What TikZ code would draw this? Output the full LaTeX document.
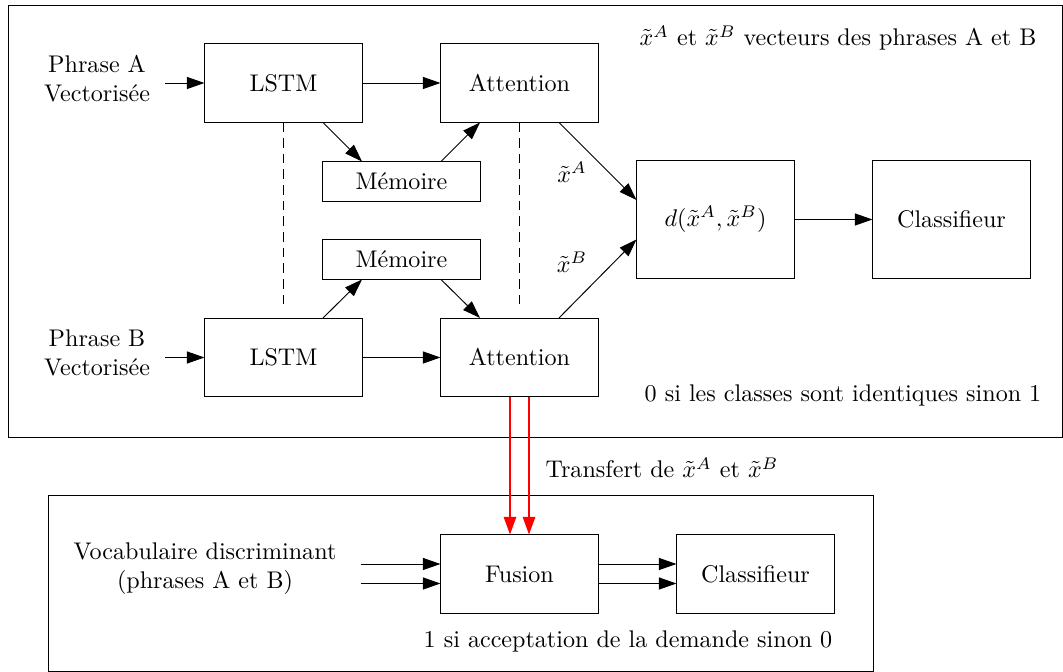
\documentclass[tikz,border=0pt]{standalone}
\usetikzlibrary{arrows.meta,calc}
\begin{document}
\begin{tikzpicture}[x=0.415pt,y=-0.415pt,
  box/.style={draw, minimum width=65.2pt, minimum height=32.4pt, inner sep=0pt},
  membox/.style={draw, minimum width=65.2pt, minimum height=16.2pt, inner sep=0pt},
  distbox/.style={draw, minimum width=65.2pt, minimum height=48.6pt, inner sep=0pt},
  lbl/.style={inner sep=0pt, align=center},
  arr/.style={-{Triangle[length=7.3pt,width=5pt]}},
  redarr/.style={color=red, line width=0.5pt, -{Triangle[length=7.3pt,width=5.2pt]}},
  sep/.style={dashed, dash pattern=on 4pt off 2.5pt}]
\useasboundingbox (0,0) rectangle (1063,672);

% frames of the two stages
\draw (8,5) rectangle (1062,437);
\draw (48,495) rectangle (873,671);

% upper stage: siamese encoder
\node[lbl] (phrA) at (97,79) {Phrase A\\Vectorisée};
\node[lbl] (phrB) at (97,353) {Phrase B\\Vectorisée};
\node[box] (lstmA) at (283.5,83) {LSTM};
\node[box] (attA) at (519.5,83) {Attention};
\node[membox] (memA) at (401.5,181.5) {Mémoire};
\node[membox] (memB) at (401.5,259.5) {Mémoire};
\node[box] (lstmB) at (283.5,357.5) {LSTM};
\node[box] (attB) at (519.5,357.5) {Attention};
\node[distbox] (dist) at (715.5,219.5) {$d(\tilde{x}^A,\tilde{x}^B)$};
\node[distbox] (clsA) at (951.5,219.5) {Classifieur};

\node[lbl] (xa) at (572,172) {$\tilde{x}^A$};
\node[lbl] (xb) at (572,262) {$\tilde{x}^B$};
\node[lbl] (legend) at (838,38) {$\tilde{x}^A$ et $\tilde{x}^B$ vecteurs des phrases A et B};
\node[lbl] (rule1) at (843,395) {0 si les classes sont identiques sinon 1};

\draw[arr] ($(lstmA.west)+(-39,0)$) -- (lstmA.west);
\draw[arr] ($(lstmB.west)+(-39,0)$) -- (lstmB.west);
\draw[arr] (lstmA) -- (attA);
\draw[arr] (lstmB) -- (attB);
\draw[arr] ($(lstmA.south)+(39.5,0)$) -- ($(memA.north)+(-39.5,0)$);
\draw[arr] ($(memA.north)+(39.5,0)$) -- ($(attA.south)+(-39.5,0)$);
\draw[arr] ($(lstmB.north)+(39.5,0)$) -- ($(memB.south)+(-39.5,0)$);
\draw[arr] ($(memB.south)+(39.5,0)$) -- ($(attB.north)+(-39.5,0)$);
\draw[arr] ($(attA.south)+(39.5,0)$) -- ($(dist.west)+(0,-19.5)$);
\draw[arr] ($(attB.north)+(39.5,0)$) -- ($(dist.west)+(0,20)$);
\draw[arr] (dist) -- (clsA);
\draw[sep] (lstmA.south) -- ($(lstmB.north)+(0,-10)$);
\draw[sep] (attA.south) -- ($(attB.north)+(0,-10)$);

% lower stage: fusion classifier
\node[lbl] (voc) at (205,569) {Vocabulaire discriminant\\(phrases A et B)};
\node[box] (fus) at (519.5,574) {Fusion};
\node[box] (clsB) at (755.5,574) {Classifieur};
\node[lbl] (transf) at (662,468) {Transfert de $\tilde{x}^A$ et $\tilde{x}^B$};
\node[lbl] (rule2) at (628,641) {1 si acceptation de la demande sinon 0};

\draw[arr] ($(fus.west)+(-79,-10)$) -- ($(fus.west)+(0,-10)$);
\draw[arr] ($(fus.west)+(-79,9.5)$) -- ($(fus.west)+(0,9.5)$);
\draw[arr] ($(fus.east)+(0,-10)$) -- ($(clsB.west)+(0,-10)$);
\draw[arr] ($(fus.east)+(0,9.5)$) -- ($(clsB.west)+(0,9.5)$);
\draw[redarr] ($(attB.south)+(-9.5,0)$) -- ($(fus.north)+(-9.5,0)$);
\draw[redarr] ($(attB.south)+(9.5,0)$) -- ($(fus.north)+(9.5,0)$);
\end{tikzpicture}
\end{document}
